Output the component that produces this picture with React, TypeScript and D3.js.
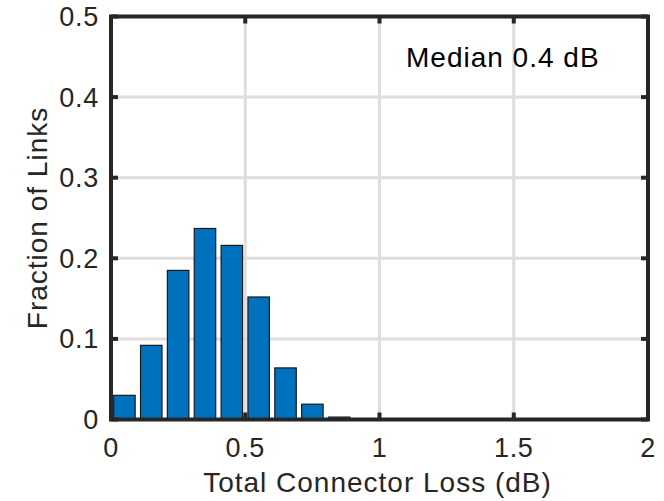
import React from "react";
import * as d3 from "d3";

const binStarts = [0, 0.1, 0.2, 0.3, 0.4, 0.5, 0.6, 0.7, 0.8];
const fractions = [0.030, 0.092, 0.185, 0.237, 0.216, 0.152, 0.064, 0.019, 0.003];
const binWidth = 0.1;
const xTicks = [0, 0.5, 1, 1.5, 2];
const yTicks = [0, 0.1, 0.2, 0.3, 0.4, 0.5];
const xTickLabels = ["0", "0.5", "1", "1.5", "2"];
const yTickLabels = ["0", "0.1", "0.2", "0.3", "0.4", "0.5"];
const xLabel = "Total Connector Loss (dB)";
const yLabel = "Fraction of Links";
const annotation = "Median 0.4 dB";

const W = 664;
const H = 501;
const left = 111, right = 648, top = 16.5, bottom = 419.5;
const FONT = "'Liberation Sans', Arial, Helvetica, sans-serif";
const AX = "#262626";

export default function App() {
  const x = d3.scaleLinear().domain([0, 2]).range([left, right]);
  const y = d3.scaleLinear().domain([0, 0.5]).range([bottom, top]);
  const barFrac = 0.8;
  const tickLen = 7;
  return (
    <svg width={W} height={H} style={{ position: "absolute", left: 0, top: 0, background: "#fff" }}>
      <rect x={0} y={0} width={W} height={H} fill="#fff" />
      {/* grid */}
      <g stroke="#dedede" strokeWidth={3}>
        {xTicks.map((t) => (
          <line key={"gx" + t} x1={x(t)} x2={x(t)} y1={top} y2={bottom} />
        ))}
        {yTicks.map((t) => (
          <line key={"gy" + t} x1={left} x2={right} y1={y(t)} y2={y(t)} />
        ))}
      </g>
      {/* bars */}
      <g fill="#0072BD" stroke="#1a1a1a" strokeWidth={1.2}>
        {binStarts.map((s, i) => {
          const c = s + binWidth / 2;
          const hw = (binWidth * barFrac) / 2;
          const x0 = x(c - hw);
          const x1 = x(c + hw);
          return (
            <rect key={i} x={x0} y={y(fractions[i])} width={x1 - x0} height={y(0) - y(fractions[i])} />
          );
        })}
      </g>
      {/* ticks */}
      <g stroke={AX} strokeWidth={4}>
        {yTicks.map((t) => (
          <g key={"ty" + t}>
            <line x1={left} x2={left + tickLen} y1={y(t)} y2={y(t)} />
            <line x1={right} x2={right - tickLen} y1={y(t)} y2={y(t)} />
          </g>
        ))}
        {xTicks.map((t) => (
          <g key={"tx" + t}>
            <line x1={x(t)} x2={x(t)} y1={bottom} y2={bottom - tickLen} />
            <line x1={x(t)} x2={x(t)} y1={top} y2={top + tickLen} />
          </g>
        ))}
      </g>
      {/* box */}
      <rect x={left} y={top} width={right - left} height={bottom - top} fill="none" stroke={AX} strokeWidth={4} />
      {/* tick labels */}
      <g fontFamily={FONT} fontSize={27} fill={AX} letterSpacing={0.7}>
        {xTicks.map((t, i) => (
          <text key={"lx" + t} x={x(t)} y={456.7} textAnchor="middle">{xTickLabels[i]}</text>
        ))}
        {yTicks.map((t, i) => (
          <text key={"ly" + t} x={99} y={y(t)} dy="0.35em" textAnchor="end">{yTickLabels[i]}</text>
        ))}
      </g>
      {/* labels */}
      <text x={(left + right) / 2 - 2} y={491.7} textAnchor="middle" fontFamily={FONT} fontSize={28} fill={AX} letterSpacing={1}>
        {xLabel}
      </text>
      <text transform={`translate(47,${(top + bottom) / 2}) rotate(-90)`} textAnchor="middle" fontFamily={FONT} fontSize={28} fill={AX} letterSpacing={1}>
        {yLabel}
      </text>
      <text x={406} y={66.7} fontFamily={FONT} fontSize={28} fill="#000" letterSpacing={1}>
        {annotation}
      </text>
    </svg>
  );
}
